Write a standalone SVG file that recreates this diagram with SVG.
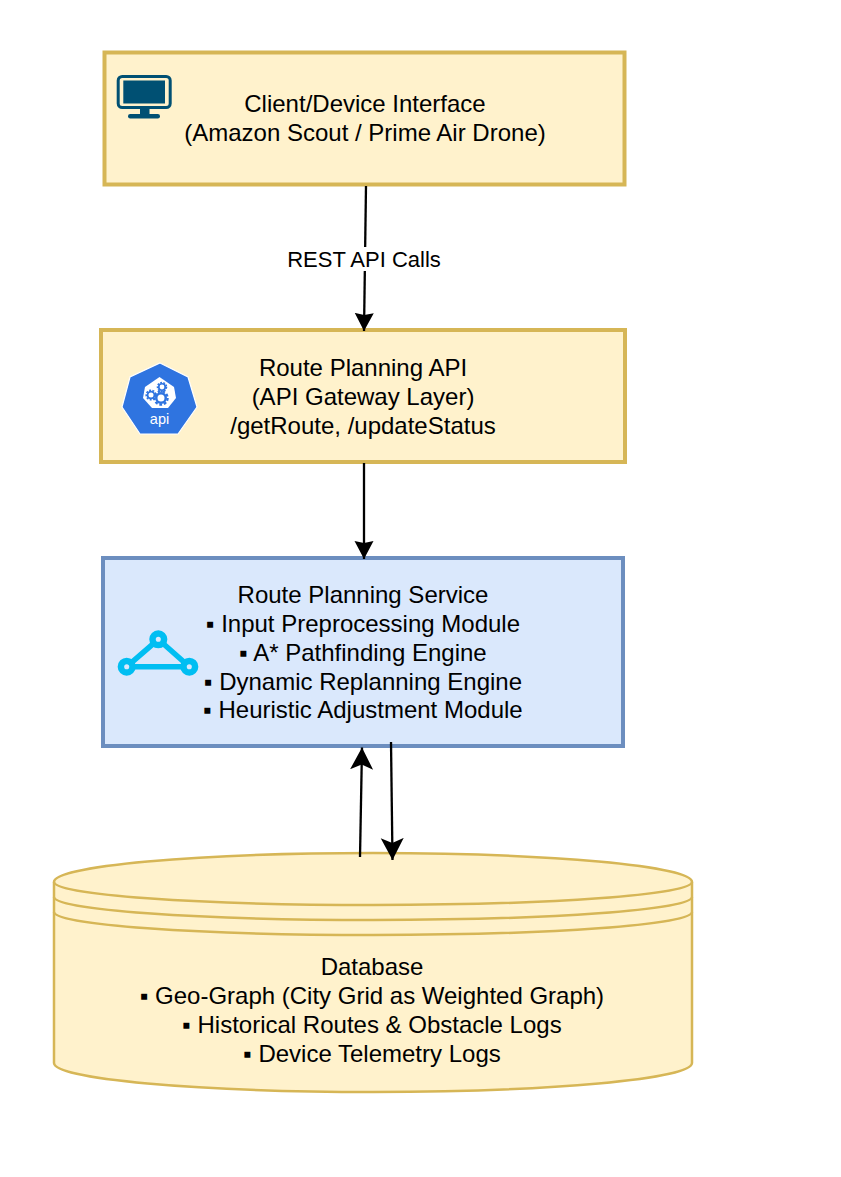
<svg xmlns="http://www.w3.org/2000/svg" width="841" height="1177" viewBox="0 0 841 1177">
<style>
text{font-family:"Liberation Sans",Arial,sans-serif;font-size:24px;fill:#000;text-anchor:middle}
.y{fill:#fff2cc;stroke:#d6b656;stroke-width:4}
.b{fill:#dae8fc;stroke:#6c8ebf;stroke-width:4}
.c{fill:#fff2cc;stroke:#d6b656;stroke-width:2.500}
.l{fill:none;stroke:#000;stroke-width:2.300}
</style>
<defs>
<marker id="a" markerUnits="userSpaceOnUse" markerWidth="20" markerHeight="20" refX="18" refY="9.500" orient="auto"><path d="M0 0L18 9.500L0 19L2 9.500Z" fill="#000"/></marker>
<marker id="b" markerUnits="userSpaceOnUse" markerWidth="24" markerHeight="24" refX="22" refY="11.500" orient="auto"><path d="M0 0L22 11.500L0 23L5 11.500Z" fill="#000"/></marker>
<g id="gear"><circle r="3.800" fill="none" stroke="#2f74e0" stroke-width="2"/><circle r="5.300" fill="none" stroke="#2f74e0" stroke-width="1.800" stroke-dasharray="2.200 1.500"/></g>
</defs>
<rect width="841" height="1177" fill="#fff"/>
<g id="client"><rect class="y" x="104.500" y="52.500" width="520" height="132"/>
<rect x="118.200" y="76.500" width="52" height="31" rx="4" fill="none" stroke="#005073" stroke-width="3"/>
<rect x="123.300" y="80.500" width="41.700" height="23" fill="#005073"/>
<rect x="140" y="108" width="9.500" height="7" fill="#005073"/>
<rect x="128" y="114" width="32" height="4.500" rx="2.200" fill="#005073"/>
<text x="365" y="112">Client/Device Interface</text><text x="365" y="141">(Amazon Scout / Prime Air Drone)</text></g>
<g id="api"><rect class="y" x="101" y="330" width="524" height="132"/>
<path d="M160 363L188 377L197 407L178 434H140L122 407L130 377Z" fill="#2f74e0" stroke="#fff" stroke-width="1.200"/>
<path d="M159.500 377L174 387L176 398L168 408H152L143 398L145 387Z" fill="#fff"/>
<use href="#gear" transform="translate(162 387) scale(.85)"/><use href="#gear" transform="translate(151 395) scale(.9)"/><use href="#gear" transform="translate(161 398) scale(1.250)"/>
<text x="159.500" y="424" style="font-size:14.500px;fill:#fff">api</text>
<text x="363" y="376">Route Planning API</text><text x="363" y="405">(API Gateway Layer)</text><text x="363" y="434">/getRoute, /updateStatus</text></g>
<g id="service"><rect class="b" x="103" y="558" width="520" height="188"/>
<path d="M158.300 639.300L126.700 666.700H189.300Z" fill="none" stroke="#00bef2" stroke-width="5.500"/>
<g fill="#dae8fc" stroke="#00bef2" stroke-width="6.500"><circle cx="158.300" cy="639.300" r="5.800"/><circle cx="126.700" cy="666.700" r="5.800"/><circle cx="189.300" cy="666.700" r="5.800"/></g>
<text x="363" y="603">Route Planning Service</text><text x="363" y="632">▪ Input Preprocessing Module</text><text x="363" y="661">▪ A* Pathfinding Engine</text><text x="363" y="689.500">▪ Dynamic Replanning Engine</text><text x="363" y="718">▪ Heuristic Adjustment Module</text></g>
<g id="database"><path class="c" d="M54 882V1063C54 1079 197 1092 373 1092S692 1079 692 1063V882C692 866 549 853 373 853S54 866 54 882Z"/>
<path d="M54 882C54 894.700 197 905 373 905S692 894.700 692 882M54 897C54 909.700 197 920 373 920S692 909.700 692 897M54 912C54 924.700 197 935 373 935S692 924.700 692 912" fill="none" stroke="#d6b656" stroke-width="2.500"/>
<text x="372" y="975">Database</text><text x="372" y="1004">▪ Geo-Graph (City Grid as Weighted Graph)</text><text x="372" y="1033">▪ Historical Routes &amp; Obstacle Logs</text><text x="372" y="1062">▪ Device Telemetry Logs</text></g>
<g id="connectors">
<path class="l" d="M366 186L364 331" marker-end="url(#a)"/>
<rect x="287" y="247" width="154" height="24" fill="#fff"/>
<text x="364" y="266.500" style="font-size:22px">REST API Calls</text>
<path class="l" d="M364 463V559" marker-end="url(#a)"/>
<path class="l" d="M360 857L362 747.500" marker-end="url(#b)"/>
<path class="l" d="M391 742L392.500 860" marker-end="url(#b)"/>
</g>
</svg>
